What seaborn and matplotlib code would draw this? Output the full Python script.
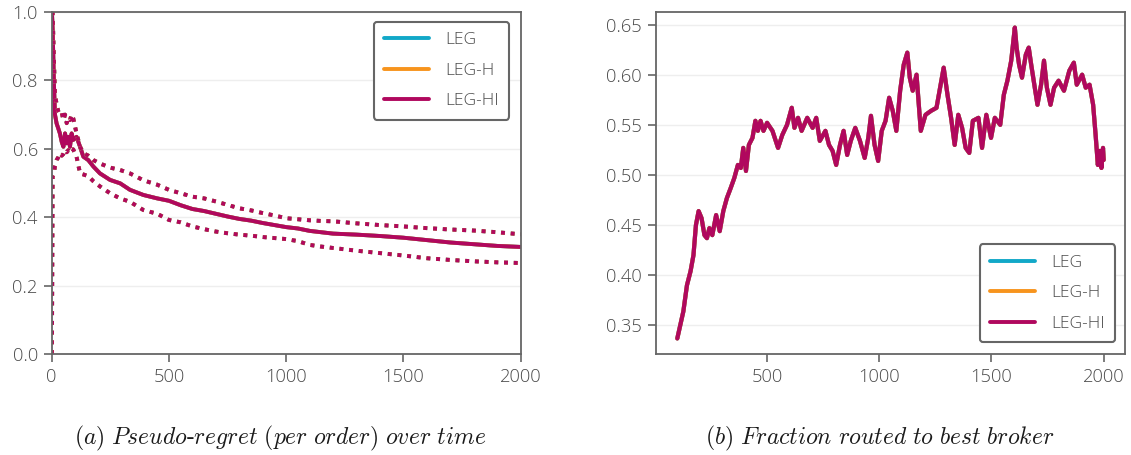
import numpy as np
import pandas as pd
import matplotlib
matplotlib.use("Agg")
import matplotlib.pyplot as plt
import seaborn as sns

# ---------------- data ----------------
methods = ["LEG", "LEG-H", "LEG-HI"]
colors = ["#12a8c8", "#f7941d", "#b0085e"]

# (a) pseudo-regret per order: mean and bounds
t_a = [1, 4, 10, 14, 21, 28, 35, 43, 50, 57, 64, 71, 78, 85, 92, 106, 121, 135,
       156, 178, 206, 249, 292, 334, 391, 450, 500, 550, 600, 650, 700, 750, 800,
       850, 900, 950, 1000, 1050, 1100, 1150, 1200, 1300, 1400, 1500, 1600, 1700,
       1800, 1900, 2000]
regret_mean = [1.0, 0.95, 0.78, 0.70, 0.674, 0.66, 0.645, 0.62, 0.606, 0.645, 0.616,
               0.635, 0.606, 0.645, 0.626, 0.635, 0.606, 0.577, 0.567, 0.548, 0.528,
               0.509, 0.499, 0.480, 0.465, 0.455, 0.448, 0.435, 0.424, 0.418, 0.41,
               0.402, 0.395, 0.39, 0.383, 0.377, 0.371, 0.367, 0.36, 0.356, 0.352,
               0.349, 0.345, 0.34, 0.333, 0.326, 0.321, 0.316, 0.313]
regret_upper = [1.0, 1.0, 0.85, 0.76, 0.73, 0.71, 0.70, 0.705, 0.684, 0.70, 0.675,
                0.69, 0.684, 0.70, 0.689, 0.645, 0.606, 0.587, 0.58, 0.567, 0.557,
                0.545, 0.538, 0.528, 0.508, 0.495, 0.48, 0.47, 0.46, 0.455, 0.446,
                0.436, 0.426, 0.42, 0.412, 0.405, 0.397, 0.394, 0.391, 0.389, 0.388,
                0.382, 0.377, 0.373, 0.368, 0.364, 0.361, 0.356, 0.350]
regret_lower = [0.0, 0.52, 0.528, 0.55, 0.567, 0.575, 0.587, 0.58, 0.585, 0.596, 0.59,
                0.596, 0.59, 0.60, 0.598, 0.577, 0.528, 0.525, 0.52, 0.505, 0.49,
                0.47, 0.455, 0.445, 0.421, 0.41, 0.392, 0.385, 0.373, 0.365, 0.358,
                0.353, 0.349, 0.346, 0.342, 0.339, 0.336, 0.33, 0.319, 0.314, 0.31,
                0.302, 0.295, 0.288, 0.28, 0.275, 0.271, 0.268, 0.266]

# (b) fraction routed to best broker
t_b = [100, 127, 143, 159, 172, 183, 195, 208, 221, 232, 243, 256, 273, 289, 305,
       321, 338, 354, 370, 383, 394, 406, 419, 435, 448, 459, 471, 484, 500, 524,
       549, 568, 589, 610, 622, 638, 654, 679, 703, 719, 735, 760, 776, 792, 808,
       825, 841, 857, 873, 893, 914, 935, 951, 963, 979, 995, 1011, 1028, 1044,
       1060, 1076, 1093, 1109, 1125, 1136, 1149, 1166, 1185, 1206, 1231, 1255,
       1271, 1287, 1304, 1320, 1336, 1352, 1369, 1385, 1401, 1417, 1442, 1458,
       1477, 1498, 1515, 1539, 1555, 1571, 1588, 1604, 1612, 1623, 1636, 1653,
       1666, 1677, 1693, 1705, 1721, 1734, 1747, 1763, 1779, 1799, 1823, 1847,
       1867, 1880, 1904, 1920, 1937, 1953, 1964, 1974, 1982, 1990, 1997, 2000]
frac_best = [0.337, 0.364, 0.390, 0.404, 0.42, 0.45, 0.464, 0.457, 0.44, 0.437,
             0.447, 0.44, 0.46, 0.444, 0.464, 0.477, 0.487, 0.497, 0.51, 0.507,
             0.527, 0.504, 0.53, 0.537, 0.554, 0.544, 0.554, 0.544, 0.552, 0.544,
             0.527, 0.54, 0.55, 0.567, 0.547, 0.557, 0.544, 0.557, 0.547, 0.557,
             0.534, 0.544, 0.53, 0.524, 0.51, 0.53, 0.544, 0.52, 0.534, 0.547,
             0.534, 0.517, 0.537, 0.559, 0.53, 0.514, 0.544, 0.554, 0.577, 0.564,
             0.544, 0.584, 0.61, 0.622, 0.597, 0.584, 0.60, 0.544, 0.56, 0.564,
             0.567, 0.587, 0.607, 0.58, 0.557, 0.53, 0.56, 0.547, 0.527, 0.522,
             0.554, 0.557, 0.527, 0.56, 0.537, 0.557, 0.55, 0.58, 0.594, 0.614,
             0.647, 0.627, 0.61, 0.597, 0.62, 0.627, 0.61, 0.587, 0.57, 0.59,
             0.614, 0.587, 0.57, 0.587, 0.594, 0.584, 0.604, 0.612, 0.59, 0.60,
             0.587, 0.59, 0.57, 0.54, 0.51, 0.524, 0.507, 0.527, 0.515]

# ---------------- tables ----------------
rows_a = []
for m in methods:
    for t, mu, up, lo in zip(t_a, regret_mean, regret_upper, regret_lower):
        rows_a.append({"t": t, "method": m, "mean": mu, "upper": up, "lower": lo})
df_a = pd.DataFrame(rows_a)

rows_b = []
for m in methods:
    for t, f in zip(t_b, frac_best):
        rows_b.append({"t": t, "method": m, "frac": f})
df_b = pd.DataFrame(rows_b)

# ---------------- style ----------------
sns.set_theme(style="white")
plt.rcParams["font.family"] = ["Open Sans", "DejaVu Sans"]
plt.rcParams["font.weight"] = "light"
plt.rcParams["mathtext.fontset"] = "cm"
spine_c = "#666666"
text_c = "#4a4a4a"

fig = plt.figure(figsize=(11.31, 4.55), dpi=100)
ax1 = fig.add_axes([0.0457, 0.222, 0.4147, 0.7516])
ax2 = fig.add_axes([0.580, 0.222, 0.4147, 0.7516])

palette = dict(zip(methods, colors))

sns.lineplot(data=df_a, x="t", y="mean", hue="method", palette=palette,
             estimator=None, linewidth=2.8, ax=ax1)
for col in ["upper", "lower"]:
    sns.lineplot(data=df_a, x="t", y=col, hue="method", palette=palette,
                 estimator=None, linewidth=2.8, linestyle=(0, (1, 1.5)),
                 legend=False, ax=ax1)
ax1.set_xlim(0, 2000)
ax1.set_ylim(0, 1.0)
ax1.set_yticks([0.0, 0.2, 0.4, 0.6, 0.8, 1.0])
ax1.set_xticks([0, 500, 1000, 1500, 2000])

sns.lineplot(data=df_b, x="t", y="frac", hue="method", palette=palette,
             estimator=None, linewidth=3.0, ax=ax2)
ax2.set_yticks([0.35, 0.40, 0.45, 0.50, 0.55, 0.60, 0.65])
ax2.set_yticklabels([f"{v:.2f}" for v in [0.35, 0.40, 0.45, 0.50, 0.55, 0.60, 0.65]])
ax2.set_xticks([500, 1000, 1500, 2000])

for ax in (ax1, ax2):
    ax.set_xlabel("")
    ax.set_ylabel("")
    ax.grid(axis="y", color="#eeeeee", linewidth=1.0)
    ax.grid(axis="x", visible=False)
    for s in ax.spines.values():
        s.set_color(spine_c)
        s.set_linewidth(1.3)
    ax.tick_params(axis="both", which="major", direction="out", length=6,
                   width=1.2, color=spine_c, labelcolor=text_c, labelsize=13.2,
                   bottom=True, left=True, pad=4)

leg_kw = dict(frameon=True, fancybox=True, edgecolor=spine_c, fontsize=12.5,
              handlelength=2.6, handletextpad=0.9, labelspacing=0.82,
              borderpad=0.6, borderaxespad=0.0, labelcolor=text_c)
l1 = ax1.legend(loc="upper right", bbox_to_anchor=(0.975, 0.971), **leg_kw)
l2 = ax2.legend(loc="lower right", bbox_to_anchor=(0.979, 0.035), **leg_kw)
for lg in (l1, l2):
    lg.get_frame().set_linewidth(1.5)
    lg.get_frame().set_alpha(1)
    for h in lg.get_lines():
        h.set_linewidth(2.8)

cap_a = r"$\mathit{(a)\ Pseudo}$-$\mathit{regret\ (per\ order)\ over\ time}$"
cap_b = r"$\mathit{(b)\ Fraction\ routed\ to\ best\ broker}$"
fig.text(280 / 1131, 1 - 438 / 455, cap_a, ha="center", va="center",
         family=["cmr10", "DejaVu Serif"], fontsize=17, color="#1a1a1a")
fig.text(880 / 1131, 1 - 438 / 455, cap_b, ha="center", va="center",
         family=["cmr10", "DejaVu Serif"], fontsize=17, color="#1a1a1a")

fig.savefig("out.png", dpi=100)
